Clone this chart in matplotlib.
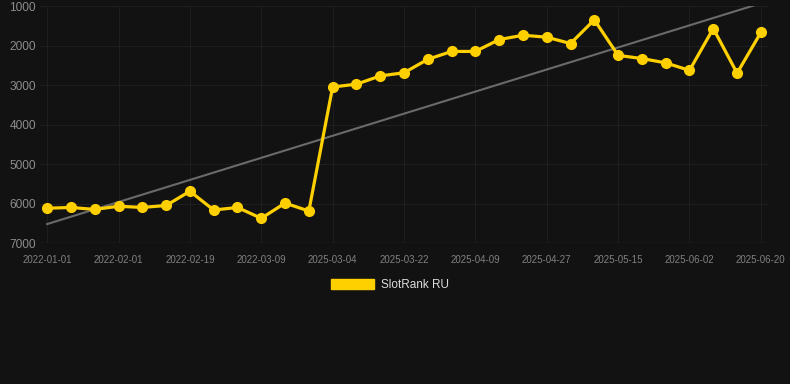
import matplotlib
matplotlib.use("Agg")
import matplotlib.pyplot as plt
import numpy as np
from matplotlib.patches import Patch

dates = ["2022-01-01", "2022-01-11", "2022-01-21", "2022-02-01", "2022-02-07", "2022-02-13",
         "2022-02-19", "2022-02-25", "2022-03-03", "2022-03-09", "2022-03-15", "2022-03-21",
         "2025-03-04", "2025-03-10", "2025-03-16", "2025-03-22", "2025-03-28", "2025-04-03",
         "2025-04-09", "2025-04-15", "2025-04-21", "2025-04-27", "2025-05-03", "2025-05-09",
         "2025-05-15", "2025-05-21", "2025-05-27", "2025-06-02", "2025-06-08", "2025-06-14",
         "2025-06-20"]
rank = [6120, 6100, 6150, 6070, 6100, 6050, 5690, 6165, 6100, 6375, 5990, 6190,
        3050, 2980, 2770, 2690, 2350, 2150, 2150, 1850, 1740, 1790, 1950, 1350,
        2250, 2330, 2440, 2630, 1570, 2700, 1670]
series_name = "SlotRank RU"
yticks = [1000, 2000, 3000, 4000, 5000, 6000, 7000]

plt.rcParams['font.family'] = ['Liberation Sans', 'DejaVu Sans']
bg = "#121212"
fig = plt.figure(figsize=(7.9, 3.84), dpi=100, facecolor=bg)
ax = fig.add_axes([40/790, 1-243/384, (768-40)/790, (243-6)/384], facecolor=bg)

x = np.arange(len(dates))
# trend line (linear regression)
coef = np.polyfit(x, rank, 1)
ax.plot(x, np.polyval(coef, x), color="#6a6a6a", lw=1.5, zorder=2)
ax.plot(x, rank, color="#FFD000", lw=2.3, marker="o", ms=7, zorder=3, label=series_name)

ax.set_ylim(7000, 1000)
ax.set_xlim(-0.3, len(dates) - 1 + 0.3)
ax.set_yticks(yticks)
ax.set_yticklabels([str(v) for v in yticks])
tick_idx = list(range(0, len(dates), 3))
ax.set_xticks(tick_idx)
ax.set_xticklabels([dates[i] for i in tick_idx])
ax.grid(True, color="#1e1e1e", lw=0.8)
for s in ax.spines.values():
    s.set_visible(False)
ax.axhline(7000, color="#2a2a2a", lw=1, zorder=1)
ax.tick_params(axis="y", length=0, labelsize=8.6, labelcolor="#8c8c8c", pad=3)
ax.tick_params(axis="x", length=0, labelsize=7, labelcolor="#808080", pad=8.5)

fig.legend(handles=[Patch(color="#FFD000", label=series_name)], loc="center",
           bbox_to_anchor=(390/790, 1-285/384), frameon=False, fontsize=8.5,
           handlelength=3.6, handleheight=1.0, labelcolor="#dddddd", handletextpad=0.6)

fig.savefig("out.png", dpi=100, facecolor=bg)
